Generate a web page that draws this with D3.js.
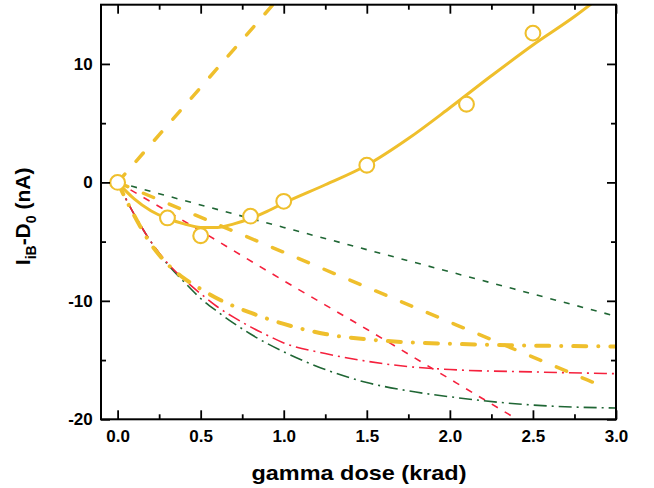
<!DOCTYPE html>
<html lang="en">
<head>
<meta charset="UTF-8">
<title>gamma dose</title>
<style>
  body { margin: 0; background: #fff; }
  svg text { font-family: Arial, "Liberation Sans", sans-serif; font-weight: bold; fill: #000; }
</style>
</head>
<body>
<svg width="654" height="488"></svg>
<script src="https://cdn.jsdelivr.net/npm/d3@7/dist/d3.min.js"></script>
<script>
// measured points (open circles)
var doseMeas = [0, 0.3, 0.5, 0.8, 1.0, 1.5, 2.1, 2.5]
var currMeas = [0, -3.0, -4.5, -2.85, -1.6, 1.45, 6.6, 12.6]

// solid fit through the points
var fitDose = [0, 0.1, 0.2, 0.3, 0.4, 0.5, 0.6, 0.7, 0.8, 0.9, 1.0, 1.25, 1.5, 1.75, 2.0, 2.25, 2.5, 2.75, 2.9]
var fitCurr = [0, -1.4, -2.4, -3.05, -3.5, -3.8, -3.8, -3.5, -3.05, -2.45, -1.75, -0.2, 1.45, 3.7, 6.3, 9.0, 11.6, 14.0, 15.6]

// yellow dashed lines (rising / falling)
var riseDose = [0, 0.96]
var riseCurr = [0, 15.4]
var fallDose = [0, 1.0, 2.0, 2.95]
var fallCurr = [0, -5.9, -11.8, -17.4]

// dash-dot curves, shared dose grid
var ddDose = [0, 0.1, 0.2, 0.3, 0.4, 0.5, 0.6, 0.7, 0.8, 0.9, 1.0, 1.25, 1.5, 1.75, 2.0, 2.5, 3.0]
var ddYellow = [0, -2.8, -5.2, -6.9, -8.1, -9.0, -9.8, -10.45, -11.0, -11.5, -11.95, -12.8, -13.25, -13.5, -13.62, -13.78, -13.85]
var ddRed = [0, -2.7, -5.0, -6.8, -8.2, -9.4, -10.5, -11.4, -12.2, -12.9, -13.55, -14.45, -15.1, -15.55, -15.8, -16.0, -16.15]
var ddGreen = [0, -2.7, -5.0, -6.9, -8.4, -9.8, -10.9, -11.9, -12.8, -13.6, -14.3, -15.8, -16.9, -17.6, -18.1, -18.8, -19.05]

// thin dashed lines
var redDashDose = [0, 0.5, 1.0, 1.5, 2.0, 2.5]
var redDashCurr = [0, -4.1, -8.3, -12.4, -16.6, -20.8]
var greenDashDose = [0, 1, 2, 3]
var greenDashCurr = [0, -3.8, -7.55, -11.3]

// ticks
var xMajor = [0, 0.5, 1.0, 1.5, 2.0, 2.5, 3.0]
var xMinor = [0.25, 0.75, 1.25, 1.75, 2.25, 2.75]
var xLabels = ['0.0', '0.5', '1.0', '1.5', '2.0', '2.5', '3.0']
var yMajor = [-20, -10, 0, 10]
var yMinor = [-15, -5, 5]
var yLabels = ['-20', '-10', '0', '10']

var yellow = '#efbf2c'
var red = '#f5213d'
var green = '#1f6634'

var svg = d3.select('svg')
var pL = 101, pR = 616, pT = 4.7, pB = 419.3

var x = d3.scaleLinear().domain([-0.1, 3.0]).range([pL, pR])
var y = d3.scaleLinear().domain([-20, 15]).range([pB, pT])

svg.append('clipPath').attr('id', 'plot')
  .append('rect')
  .attr('x', pL).attr('y', pT)
  .attr('width', pR - pL).attr('height', pB - pT)

var zip = function(xs, ys) { return xs.map(function(d, i) { return [d, ys[i]] }) }

var line = d3.line()
  .x(function(d) { return x(d[0]) })
  .y(function(d) { return y(d[1]) })
  .curve(d3.curveMonotoneX)

var plot = svg.append('g').attr('clip-path', 'url(#plot)')

function draw(xs, ys, color, width, dash, cap) {
  plot.append('path')
    .datum(zip(xs, ys))
    .attr('d', line)
    .attr('fill', 'none')
    .attr('stroke', color)
    .attr('stroke-width', width)
    .attr('stroke-dasharray', dash)
    .attr('stroke-linecap', cap || 'butt')
}

// thin lines
draw(greenDashDose, greenDashCurr, green, 1.6, '6,8')
draw(redDashDose, redDashCurr, red, 1.6, '7,8')
draw(ddDose, ddGreen, green, 1.6, '13,5,2,5')
draw(ddDose, ddRed, red, 1.6, '13,5,2,5')

// yellow lines
draw(ddDose, ddYellow, yellow, 4, '13,12,0.1,12', 'round')
draw(fallDose, fallCurr, yellow, 3.5, '11,17', 'round')
draw(riseDose, riseCurr, yellow, 3.5, '11,17', 'round')
draw(fitDose, fitCurr, yellow, 3, null, 'round')

// measured points
svg.append('g')
  .selectAll('circle')
  .data(zip(doseMeas, currMeas))
  .enter()
  .append('circle')
  .attr('cx', function(d) { return x(d[0]) })
  .attr('cy', function(d) { return y(d[1]) })
  .attr('r', 7.4)
  .attr('fill', '#fff')
  .attr('stroke', yellow)
  .attr('stroke-width', 2.1)

// axes, ticks pointing inward
function axis(gen, tx, ty, vals, size, labels, pad) {
  var g = svg.append('g')
    .attr('transform', 'translate(' + tx + ',' + ty + ')')
    .call(gen.tickValues(vals).tickSize(size).tickPadding(pad || 0)
      .tickFormat(function(d, i) { return labels ? labels[i] : '' }))
  g.select('.domain').remove()
  g.selectAll('line').attr('stroke', '#000').attr('stroke-width', 1.8)
  g.selectAll('text').style('font-size', '17px')
  return g
}

axis(d3.axisBottom(x), 0, pB, xMajor, -9, xLabels, 11)
axis(d3.axisBottom(x), 0, pB, xMinor, -5)
axis(d3.axisTop(x), 0, pT, xMajor, -9)
axis(d3.axisTop(x), 0, pT, xMinor, -5)
axis(d3.axisLeft(y), pL, 0, yMajor, -9, yLabels, 8.3)
axis(d3.axisLeft(y), pL, 0, yMinor, -5)
axis(d3.axisRight(y), pR, 0, yMajor, -9)
axis(d3.axisRight(y), pR, 0, yMinor, -5)

// frame
svg.append('rect')
  .attr('x', pL).attr('y', pT)
  .attr('width', pR - pL).attr('height', pB - pT)
  .attr('fill', 'none')
  .attr('stroke', '#000')
  .attr('stroke-width', 2)

// axis titles
svg.append('text')
  .attr('x', 359).attr('y', 480)
  .attr('text-anchor', 'middle')
  .attr('textLength', 215)
  .attr('lengthAdjust', 'spacingAndGlyphs')
  .style('font-size', '21px')
  .text('gamma dose (krad)')

var yt = svg.append('text')
  .attr('transform', 'translate(29.5,216.4) rotate(-90)')
  .attr('text-anchor', 'middle')
  .style('font-size', '21px')
yt.append('tspan').text('I')
yt.append('tspan').attr('dy', 6).style('font-size', '14px').text('iB')
yt.append('tspan').attr('dy', -6).text('-D')
yt.append('tspan').attr('dy', 6).style('font-size', '14px').text('0')
yt.append('tspan').attr('dy', -6).text(' (nA)')
</script>
</body>
</html>
